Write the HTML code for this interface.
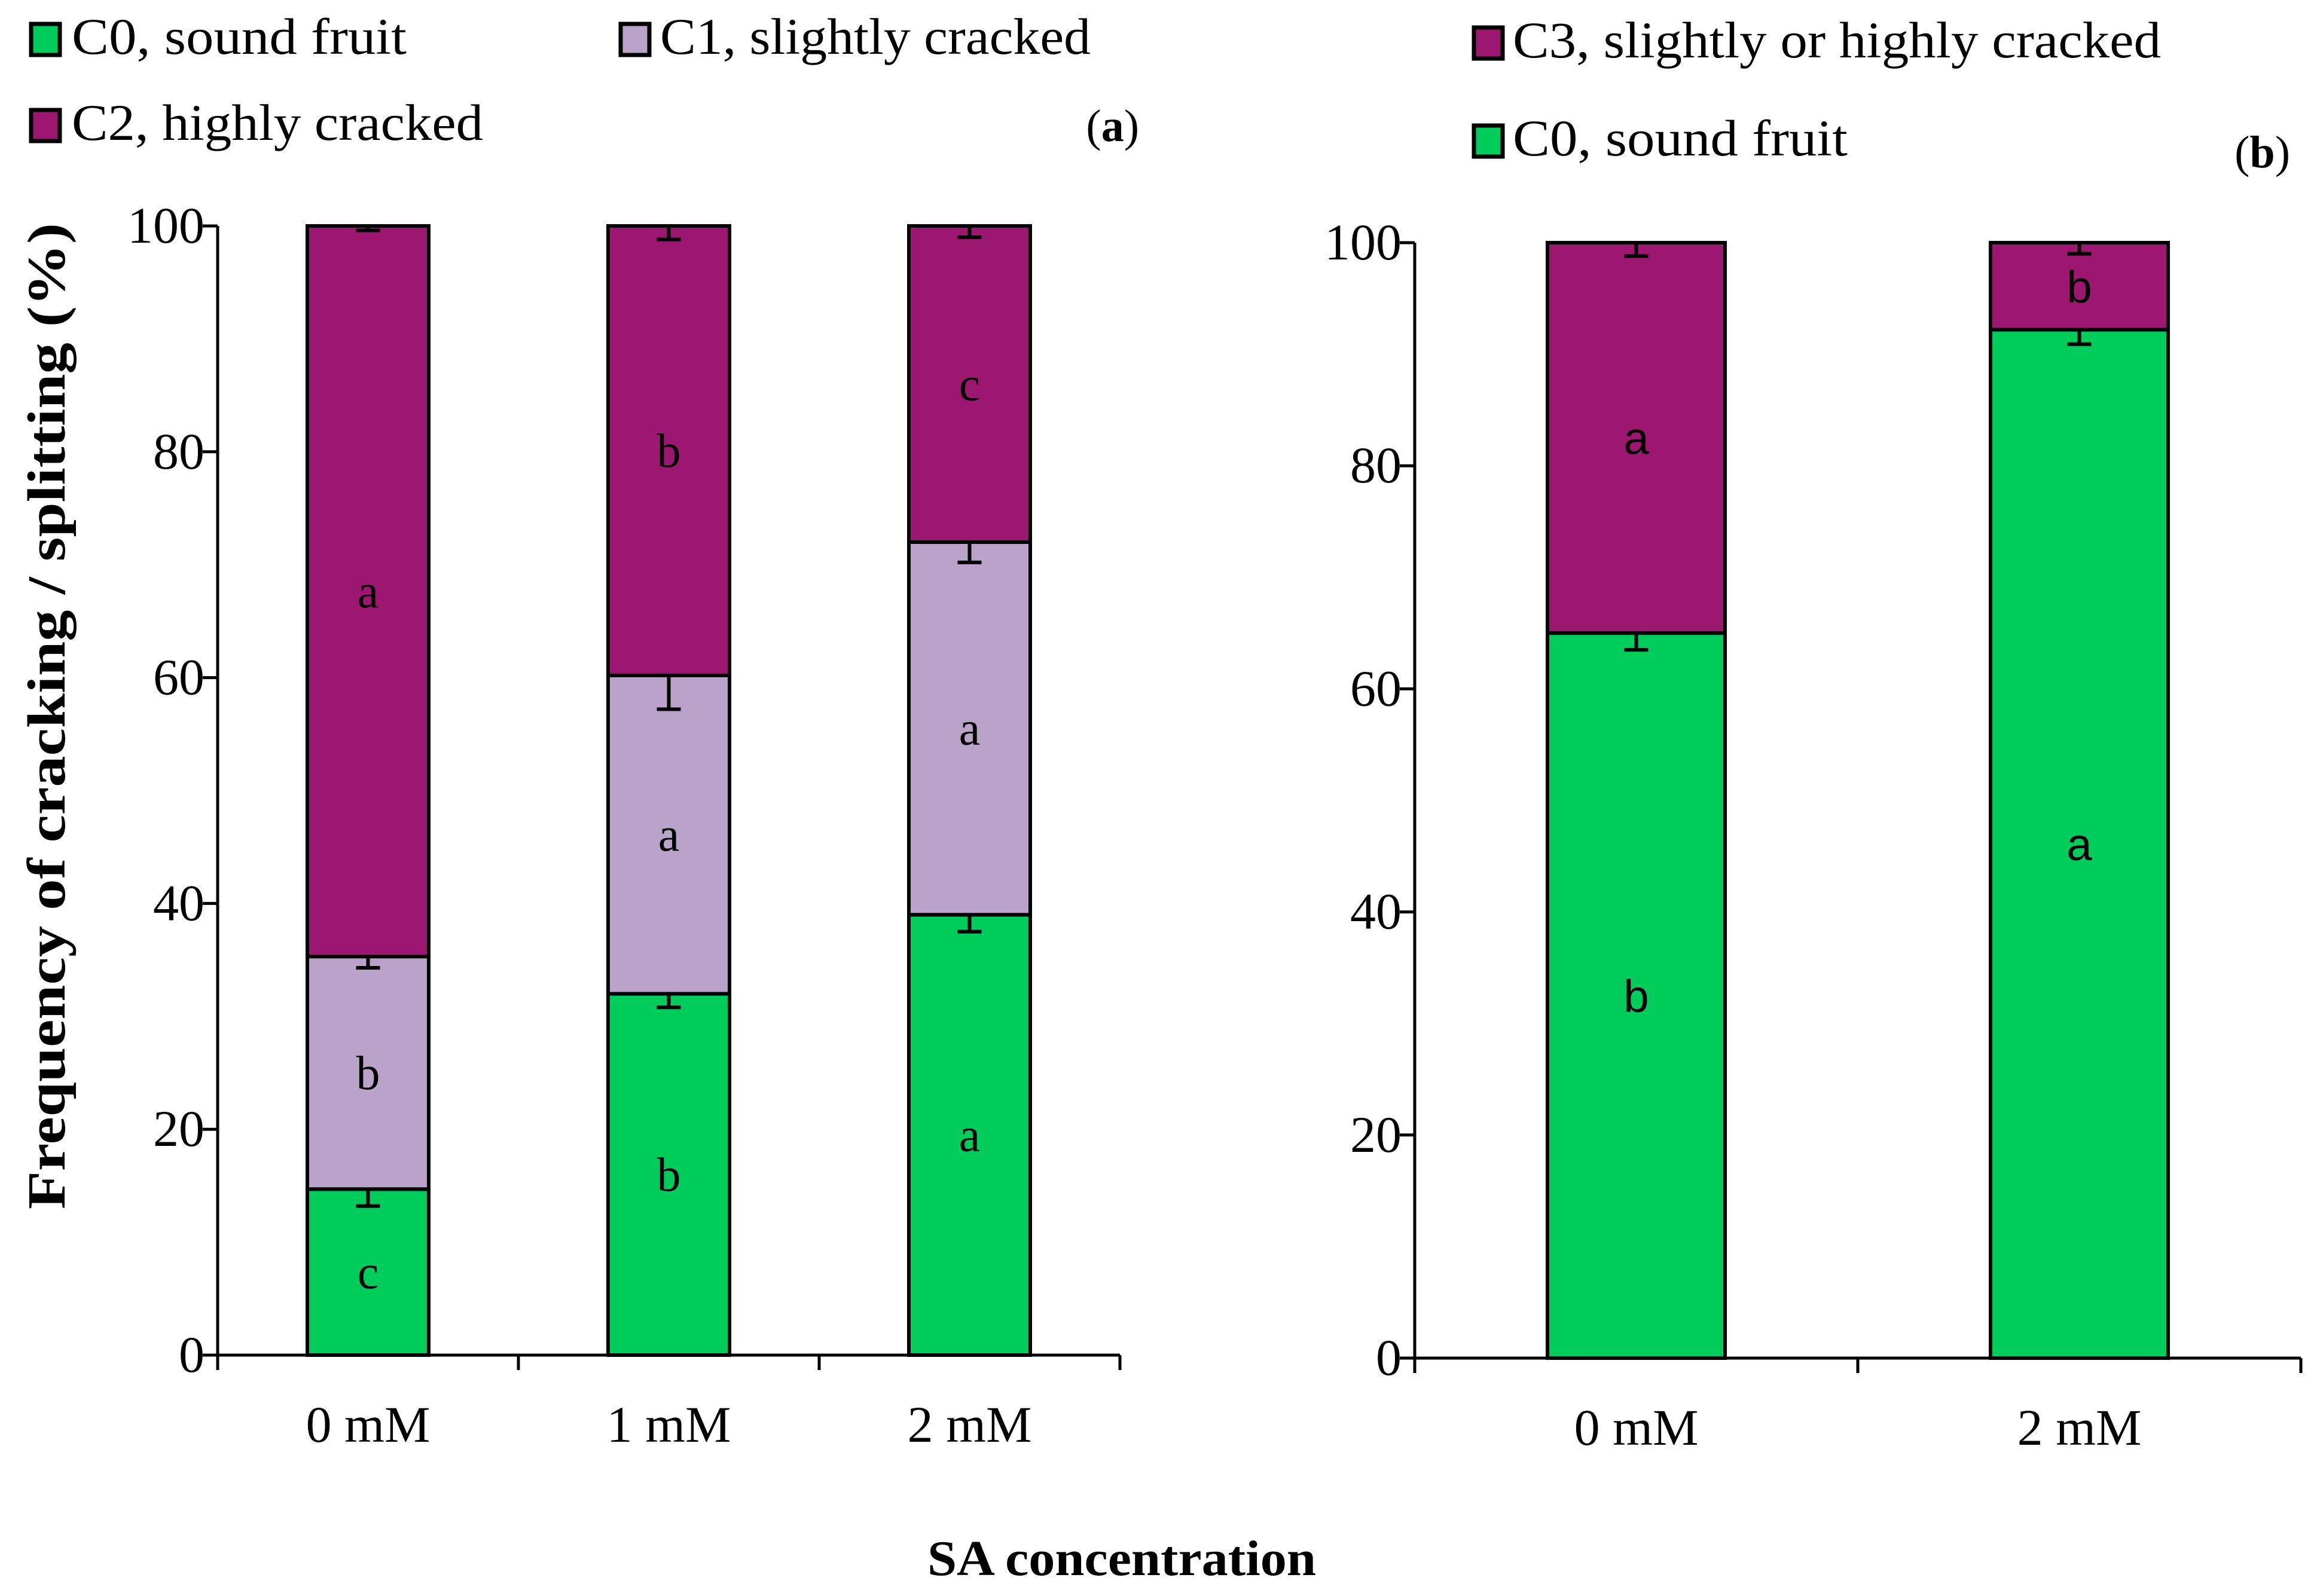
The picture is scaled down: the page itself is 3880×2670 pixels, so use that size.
<!DOCTYPE html>
<html><head><meta charset="utf-8"><style>
html,body{margin:0;padding:0;background:#fff;}
svg{display:block;}
text{font-family:"Liberation Serif",serif;fill:#000;}
.s{font-family:"Liberation Sans",sans-serif;}
</style></head><body>
<svg id="chart" width="3880" height="2670" viewBox="0 0 3880 2670" xmlns="http://www.w3.org/2000/svg">
<g id="legendA">
 <rect x="52" y="40" width="48" height="52" fill="#00cc5c" stroke="#000" stroke-width="7"/>
 <text x="120" y="90" font-size="86" textLength="560" lengthAdjust="spacingAndGlyphs">C0, sound fruit</text>
 <rect x="1038" y="40" width="48" height="52" fill="#b9a3c8" stroke="#000" stroke-width="7"/>
 <text x="1104" y="90" font-size="86" textLength="720" lengthAdjust="spacingAndGlyphs">C1, slightly cracked</text>
 <rect x="52" y="184" width="48" height="52" fill="#9c1870" stroke="#000" stroke-width="7"/>
 <text x="120" y="234" font-size="86" textLength="688" lengthAdjust="spacingAndGlyphs">C2, highly cracked</text>
 <text x="1905" y="236" font-size="76" text-anchor="end">(<tspan font-weight="bold">a</tspan>)</text>
</g>
<g id="legendB">
 <rect x="2465" y="46" width="48" height="52" fill="#9c1870" stroke="#000" stroke-width="7"/>
 <text x="2530" y="96" font-size="86" textLength="1084" lengthAdjust="spacingAndGlyphs">C3, slightly or highly cracked</text>
 <rect x="2465" y="210" width="48" height="52" fill="#00cc5c" stroke="#000" stroke-width="7"/>
 <text x="2530" y="260" font-size="86" textLength="560" lengthAdjust="spacingAndGlyphs">C0, sound fruit</text>
 <text x="3830" y="280" font-size="76" text-anchor="end">(<tspan font-weight="bold">b</tspan>)</text>
</g>
<text transform="translate(108,1198) rotate(-90)" font-size="90" font-weight="bold" text-anchor="middle" textLength="1650" lengthAdjust="spacingAndGlyphs">Frequency of cracking / splitting (%)</text>
<text x="1876" y="2635" font-size="84" font-weight="bold" text-anchor="middle" textLength="650" lengthAdjust="spacingAndGlyphs">SA concentration</text>
<g id="pa"></g>
<g id="pb"></g>
</svg>
<script>
const catsA = ["0 mM","1 mM","2 mM"];
const c0A = [14.7, 32.0, 39.0];
const c1A = [20.6, 28.2, 33.0];
const c2A = [64.7, 39.8, 28.0];
const c0ErrA = [1.5, 1.2, 1.5];
const c1ErrA = [1.0, 3.0, 1.8];
const c2ErrA = [0.4, 1.2, 1.0];
const c0LetA = ["c","b","a"];
const c1LetA = ["b","a","a"];
const c2LetA = ["a","b","c"];
const catsB = ["0 mM","2 mM"];
const c0B = [65.0, 92.2];
const c3B = [35.0, 7.8];
const c0ErrB = [1.5, 1.3];
const c3ErrB = [1.2, 1.0];
const c0LetB = ["b","a"];
const c3LetB = ["a","b"];
const yTicks = [0,20,40,60,80,100];

const NS="http://www.w3.org/2000/svg";
function mk(p,tag,at){const e=document.createElementNS(NS,tag);for(const k in at)e.setAttribute(k,at[k]);p.appendChild(e);return e;}

function panel(g,cfg,cats,series){
  const y=v=>cfg.y0-(cfg.y0-cfg.y1)*v/100;
  const step=(cfg.x1-cfg.x0)/cats.length;
  const cx=i=>cfg.x0+step*(i+0.5);
  cats.forEach((c,i)=>{
    let base=0;
    series.forEach(s=>{
      const v=s.vals[i];
      const r=mk(g,'rect',{x:cx(i)-cfg.bw/2,y:y(base+v),width:cfg.bw,height:y(base)-y(base+v),fill:s.color,stroke:'#000','stroke-width':cfg.sw});
      
      
      const t=mk(g,'text',{x:cx(i),y:y(base+v/2)+27,'font-size':cfg.sans?76:80,'text-anchor':'middle'});
      if(cfg.sans)t.setAttribute('class','s');
      t.textContent=s.lets[i];
      
      
      const top=base+v,e=s.err[i];
      const hi=Math.min(top+e,100);
      const eg=mk(g,'path',{d:`M${cx(i)},${y(top-e)}V${y(hi)}M${cx(i)-20},${y(top-e)}H${cx(i)+20}M${cx(i)-20},${y(hi)}H${cx(i)+20}`,stroke:'#000','stroke-width':6,fill:'none'});
      
      
      base+=v;
    });
    const tl=mk(g,'text',{x:cx(i),y:cfg.y0+145,'font-size':86,'text-anchor':'middle'});
    tl.textContent=c;
    
    
  });
  const ax=mk(g,'path',{d:`M${cfg.x0},${cfg.y1}V${cfg.y0}H${cfg.x1}`,stroke:'#000','stroke-width':5,fill:'none'});
  
  
  for(let i=0;i<=cats.length;i++){
    const xt=cfg.x0+step*i;
    const tk=mk(g,'line',{x1:xt,x2:xt,y1:cfg.y0,y2:cfg.y0+25,stroke:'#000','stroke-width':5});
    
    
  }
  yTicks.forEach(v=>{
    const tk=mk(g,'line',{x1:cfg.x0-25,x2:cfg.x0,y1:y(v),y2:y(v),stroke:'#000','stroke-width':5});
    
    
    const t=mk(g,'text',{x:cfg.x0-22,y:y(v)+28,'font-size':86,'text-anchor':'end'});
    t.textContent=v;
    
    
  });
}
panel(document.getElementById('pa'),{x0:364,x1:1873,y0:2267,y1:378,bw:203,sw:6,sans:false},catsA,[
 {key:'c0',vals:c0A,err:c0ErrA,lets:c0LetA,color:'#00cc5c'},
 {key:'c1',vals:c1A,err:c1ErrA,lets:c1LetA,color:'#b9a3c8'},
 {key:'c2',vals:c2A,err:c2ErrA,lets:c2LetA,color:'#9c1870'}]);
panel(document.getElementById('pb'),{x0:2366,x1:3848,y0:2272,y1:406,bw:297,sw:6,sans:true},catsB,[
 {key:'c0b',vals:c0B,err:c0ErrB,lets:c0LetB,color:'#00cc5c'},
 {key:'c3',vals:c3B,err:c3ErrB,lets:c3LetB,color:'#9c1870'}]);
</script>
</body></html>
